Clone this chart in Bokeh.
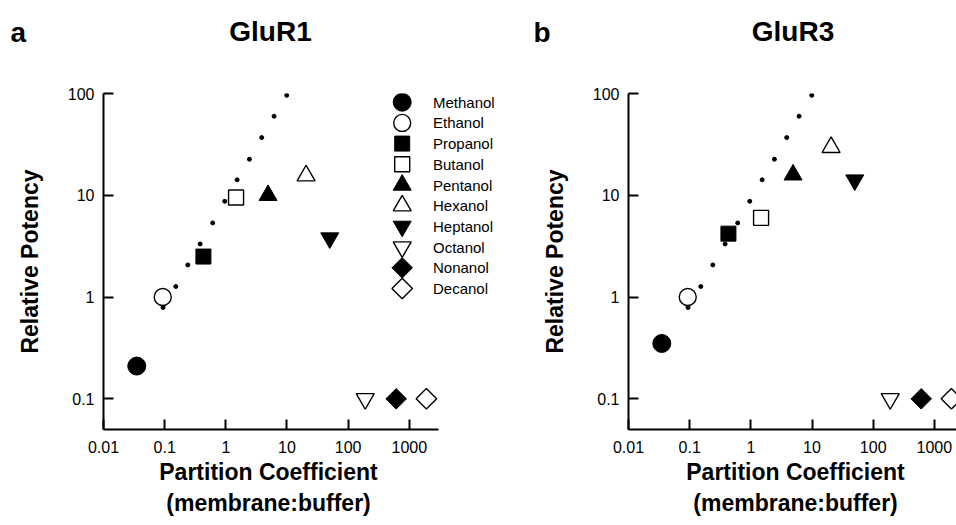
import math
from bokeh.plotting import figure
from bokeh.layouts import row, column
from bokeh.models import (Range1d, LinearScale, FixedTicker, CustomJSTickFormatter,
                          ColumnDataSource, LabelSet, Label, Title)
from bokeh.core.properties import value
from bokeh.embed import file_html
from bokeh.resources import INLINE

# ---------------- data ----------------
alcohols = ["Methanol", "Ethanol", "Propanol", "Butanol", "Pentanol",
            "Hexanol", "Heptanol", "Octanol", "Nonanol", "Decanol"]
partition_coeff = [0.035, 0.093, 0.43, 1.47, 4.9, 20.5, 50, 190, 610, 1900]
glur1_potency = [0.21, 1.0, 2.5, 9.5, 10.0, 15.6, 3.8, 0.1, 0.1, 0.1]
glur3_potency = [0.35, 1.0, 4.2, 6.0, 15.9, 29.6, 14.1, 0.1, 0.1, 0.1]

# reference line of unit slope (drawn as dots)
unit_slope_x = [0.094, 0.152, 0.239, 0.38, 0.61, 0.96, 1.53, 2.43, 3.86, 6.15, 9.9]
unit_slope_y = [0.79, 1.27, 2.07, 3.33, 5.35, 8.73, 14.2, 22.6, 36.9, 59.8, 96]

x_ticks = [0.01, 0.1, 1, 10, 100, 1000]
y_ticks = [0.1, 1, 10, 100]

panel_letters = ["a", "b"]
panel_titles = ["GluR1", "GluR3"]
x_label_lines = ["Partition Coefficient", "(membrane:buffer)"]
y_label = "Relative Potency"

# ---------------- styles ----------------
marker_shape = ["circle", "circle", "square", "square", "triangle", "triangle",
                "inverted_triangle", "inverted_triangle", "square", "square"]
marker_fill = ["black", "white"] * 5
marker_size = [18, 17, 15, 15, 18, 18, 18, 18, 14.5, 14.5]
marker_angle = [0, 0, 0, 0, 0, 0, 0, 0, math.pi / 4, math.pi / 4]
marker_lw = [1, 1.4] * 5

FONT = "Liberation Sans"
INK = "black"
HEADER_H = 81
FIG_H = 444
BORDER_TOP = 12
BORDER_BOTTOM = 96
FRAME_H = FIG_H - BORDER_TOP - BORDER_BOTTOM


def make_panel(potency, width, border_left, x_end, axis_end, xlabel_offsets, legend):
    p = figure(width=width, height=FIG_H, x_axis_type="log", y_axis_type="log",
               x_range=Range1d(0.01, x_end), y_range=Range1d(0.05, 100),
               output_backend="svg", toolbar_location=None,
               min_border_left=border_left, min_border_right=0,
               min_border_top=BORDER_TOP, min_border_bottom=BORDER_BOTTOM)
    p.outline_line_color = None
    p.grid.visible = False
    p.background_fill_color = "white"

    fmt = CustomJSTickFormatter(code="return tick.toString();")
    for ax, ticks in ((p.xaxis[0], x_ticks), (p.yaxis[0], y_ticks)):
        ax.ticker = FixedTicker(ticks=ticks, minor_ticks=[])
        ax.formatter = fmt
        ax.axis_line_width = 2
        ax.axis_line_color = INK
        ax.major_tick_line_width = 2
        ax.major_tick_line_color = INK
        ax.major_tick_in = 10
        ax.major_tick_out = 0
        ax.minor_tick_line_color = None
        ax.major_label_text_font = FONT
        ax.major_label_text_font_size = "16px"
        ax.major_label_text_color = INK
        ax.axis_label_text_font = FONT
        ax.axis_label_text_font_size = "23px"
        ax.axis_label_text_font_style = "bold"
        ax.axis_label_text_color = INK
    p.xaxis[0].bounds = (0.01, axis_end)
    p.xaxis[0].major_label_standoff = 11
    p.yaxis[0].major_label_standoff = 9
    p.yaxis[0].axis_label = y_label
    p.yaxis[0].axis_label_standoff = 22

    # x-axis title (two lines), each line centred under the drawn axis line
    for text, off, stand in zip(x_label_lines, xlabel_offsets, (2, 5)):
        p.add_layout(Title(text=text, align="left", offset=off, standoff=stand,
                           text_font=FONT, text_font_size="23px",
                           text_font_style="bold", text_color=INK), "below")

    # unit-slope reference dots
    p.scatter(unit_slope_x, unit_slope_y, size=4, color=INK)

    src = ColumnDataSource(dict(x=partition_coeff, y=potency, marker=marker_shape,
                                size=marker_size, fill=marker_fill, lw=marker_lw,
                                angle=marker_angle))
    p.scatter(x="x", y="y", marker="marker", size="size", fill_color="fill",
              line_color=INK, line_width="lw", angle="angle", source=src)

    if legend:
        fw = width - border_left
        p.extra_x_ranges = {"px": Range1d(0, fw)}
        p.extra_y_ranges = {"px": Range1d(0, FRAME_H)}
        p.extra_x_scales = {"px": LinearScale()}
        p.extra_y_scales = {"px": LinearScale()}
        key_x, text_x, top_y, step = 298.7, 329.5, 327.3, 20.7
        n = len(alcohols)
        lsrc = ColumnDataSource(dict(
            x=[key_x] * n, tx=[text_x] * n, y=[top_y - step * i for i in range(n)],
            marker=marker_shape, size=marker_size, fill=marker_fill, lw=marker_lw,
            angle=marker_angle, label=alcohols))
        p.scatter(x="x", y="y", marker="marker", size="size", fill_color="fill",
                  line_color=INK, line_width="lw", angle="angle", source=lsrc,
                  x_range_name="px", y_range_name="px")
        p.add_layout(LabelSet(x="tx", y="y", text="label", source=lsrc,
                              x_range_name="px", y_range_name="px",
                              text_baseline="middle", text_font=value(FONT),
                              text_font_size=value("15px"), text_color=INK))
    return p


# header strip with panel letters and titles
header = figure(width=956, height=HEADER_H, x_range=Range1d(0, 956),
                y_range=Range1d(0, HEADER_H), output_backend="svg",
                toolbar_location=None, x_axis_location=None, y_axis_location=None,
                min_border_left=0, min_border_right=0, min_border_top=0,
                min_border_bottom=0)
header.outline_line_color = None
header.grid.visible = False
for lx, tx, letter, title in zip([10, 533], [270, 792.5], panel_letters, panel_titles):
    header.add_layout(Label(x=lx, y=HEADER_H - 32, x_units="screen", y_units="screen",
                            text=letter, text_font=FONT, text_font_size="28px",
                            text_font_style="bold", text_baseline="alphabetic",
                            text_align="left", text_color=INK))
    header.add_layout(Label(x=tx, y=HEADER_H - 31, x_units="screen", y_units="screen",
                            text=title, text_font=FONT, text_font_size="28px",
                            text_font_style="bold", text_baseline="alphabetic",
                            text_align="center", text_color=INK))

pa = make_panel(glur1_potency, 510, 103, 45080, 3000, (55.75, 62.8), True)
pb = make_panel(glur3_potency, 446, 118, 2301, 2301, (57.75, 64.8), False)

layout = column(header, row(pa, pb))
open("out.html", "w").write(file_html(layout, INLINE))
